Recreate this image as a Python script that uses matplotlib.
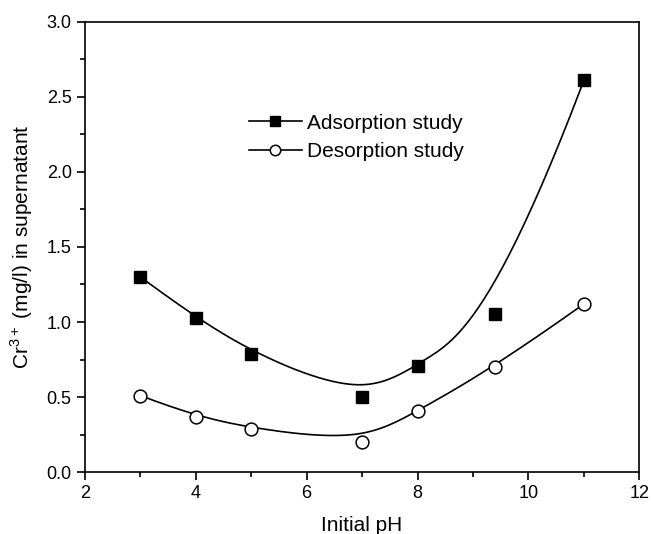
import numpy as np
import matplotlib
matplotlib.use("Agg")
import matplotlib.pyplot as plt
from matplotlib.ticker import MultipleLocator, FormatStrFormatter

plt.rcParams['font.family'] = ['Liberation Sans', 'DejaVu Sans']
plt.rcParams['mathtext.fontset'] = 'custom'
plt.rcParams['mathtext.rm'] = 'Liberation Sans'

# data
ph = [3, 4, 5, 7, 8, 9.4, 11]
adsorption = [1.30, 1.03, 0.79, 0.50, 0.71, 1.05, 2.61]
desorption = [0.51, 0.37, 0.29, 0.20, 0.41, 0.70, 1.12]


def bspline(cx, cy, k=3, n=300):
    # clamped cubic B-spline using the data points as control points
    cx = np.asarray(cx, float)
    cy = np.asarray(cy, float)
    m = len(cx)
    t = np.concatenate([np.zeros(k + 1), np.arange(1, m - k), np.full(k + 1, m - k)])
    u = np.linspace(0, m - k, n)
    u[-1] -= 1e-9
    N = np.array([(t[i] <= u) & (u < t[i + 1]) for i in range(len(t) - 1)], float)
    for p in range(1, k + 1):
        new = []
        for i in range(len(t) - 1 - p):
            d1 = t[i + p] - t[i]
            d2 = t[i + p + 1] - t[i + 1]
            a = (u - t[i]) / d1 * N[i] if d1 > 0 else 0 * u
            b = (t[i + p + 1] - u) / d2 * N[i + 1] if d2 > 0 else 0 * u
            new.append(a + b)
        N = np.array(new)
    return N.T @ cx, N.T @ cy


fig = plt.figure(figsize=(6.53, 5.34), dpi=100)
ax = fig.add_axes([0.130, 0.116, 0.849, 0.843])

bx, by = bspline(ph, adsorption)
ax.plot(bx, by, color='black', lw=1.2)
bx, by = bspline(ph, desorption)
ax.plot(bx, by, color='black', lw=1.2)

ax.plot(ph, adsorption, ls='none', marker='s', ms=8.8, mfc='black', mec='black')
ax.plot(ph, desorption, ls='none', marker='o', ms=9.2, mfc='white', mec='black', mew=1.1)

# legend proxies (line-marker-line)
h1, = ax.plot([], [], color='black', lw=1.2, marker='s', ms=7, mfc='black')
h2, = ax.plot([], [], color='black', lw=1.2, marker='o', ms=7.5, mfc='white', mew=1.1)
ax.legend([h1, h2], ['Adsorption study', 'Desorption study'], loc='upper left',
          bbox_to_anchor=(0.263, 0.838), frameon=False, fontsize=15,
          handlelength=2.5, handletextpad=0.26, labelspacing=0.45)

ax.set_xlim(2, 12)
ax.set_ylim(0, 3.0)
ax.xaxis.set_major_locator(MultipleLocator(2))
ax.xaxis.set_minor_locator(MultipleLocator(1))
ax.yaxis.set_major_locator(MultipleLocator(0.5))
ax.yaxis.set_minor_locator(MultipleLocator(0.25))
ax.yaxis.set_major_formatter(FormatStrFormatter('%.1f'))
ax.tick_params(which='both', direction='out', top=False, right=False, labelsize=13, width=1.2)
ax.tick_params(which='major', length=6)
ax.tick_params(which='minor', length=3.5)
for sp in ax.spines.values():
    sp.set_linewidth(1.2)

ax.set_xlabel('Initial pH', fontsize=15, labelpad=10)
ax.set_ylabel('Cr$^{3+}$ (mg/l) in supernatant', fontsize=15, labelpad=8)

plt.savefig('out.png', dpi=100)
